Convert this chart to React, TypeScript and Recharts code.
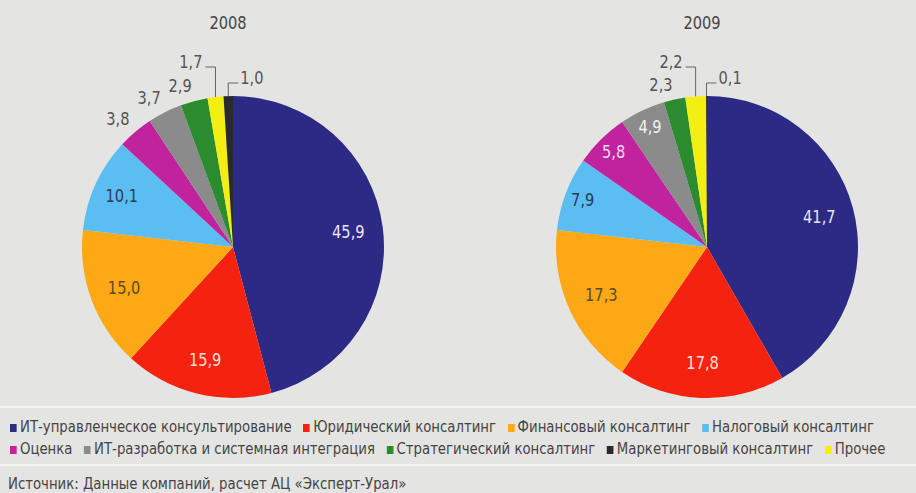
import { PieChart, Pie, Cell } from 'recharts'

// legend order
const categories = [
  'ИТ-управленческое консультирование',
  'Юридический консалтинг',
  'Финансовый консалтинг',
  'Налоговый консалтинг',
  'Оценка',
  'ИТ-разработка и системная интеграция',
  'Стратегический консалтинг',
  'Маркетинговый консалтинг',
  'Прочее',
]
const values2008 = [45.9, 15.9, 15.0, 10.1, 3.8, 3.7, 2.9, 1.0, 1.7]
const values2009 = [41.7, 17.8, 17.3, 7.9, 5.8, 4.9, 2.3, 0.1, 2.2]
const years = ['2008', '2009']
const sourceNote = 'Источник: Данные компаний, расчет АЦ «Эксперт-Урал»'

// slices go clockwise from 12 o'clock; "Прочее" sits before marketing
const pieOrder = [0, 1, 2, 3, 4, 5, 6, 8, 7]
const legendRows = [[0, 1, 2, 3], [4, 5, 6, 7, 8]]

const COLORS = ['#2d2a86', '#f5220f', '#fda814', '#5cbdf2', '#c1229e', '#8b8b8b', '#2a8c2e', '#2b2a2a', '#f4ef12']
const LABEL_COLORS = ['#e8e6f4', '#fde0dc', '#5a4a2a', '#2e3b50', '#f6def0', '#f2f2f2', '#555', '#555', '#555']
const BG = '#e4e4e2'
const FONT = '"DejaVu Sans", sans-serif'
const SQUEEZE = 0.86 // fake a condensed face
const LEGEND_SQUEEZE = 0.83
const RADIAN = Math.PI / 180
const R = 151

const fmt = (v: number) => v.toFixed(1).replace('.', ',')

const buildData = (vals: number[]) =>
  pieOrder.map((i) => ({ name: categories[i], value: vals[i], cat: i }))

function Num({ x, y, anchor, fill, children }: any) {
  return (
    <text
      transform={`translate(${x},${y}) scale(${SQUEEZE},1)`}
      textAnchor={anchor}
      dominantBaseline="central"
      fill={fill}
      style={{ fontFamily: FONT, fontSize: 17 }}
    >
      {children}
    </text>
  )
}

function renderLabel(props: any) {
  const { cx, cy, midAngle, outerRadius, value, index, payload } = props
  const cat = payload.cat ?? payload.payload?.cat
  const cos = Math.cos(-midAngle * RADIAN)
  const sin = Math.sin(-midAngle * RADIAN)
  // last two slices: leader lines up from the rim
  if (index === 7 || index === 8) {
    const px = cx + outerRadius * cos
    const py = cy + outerRadius * sin
    const topY = index === 7 ? cy - 180 : cy - 164
    const hx = index === 7 ? px - 10 : px + 10
    return (
      <g>
        <polyline points={`${px},${py} ${px},${topY} ${hx},${topY}`} fill="none" stroke="#666" strokeWidth={1} />
        <Num x={index === 7 ? hx - 3 : hx + 2} y={topY - 5} anchor={index === 7 ? 'end' : 'start'} fill="#555">
          {fmt(value)}
        </Num>
      </g>
    )
  }
  if (value < 4.5) {
    const r = outerRadius + 9
    return (
      <Num x={cx + r * cos} y={cy + r * sin - 6} anchor="end" fill="#555">
        {fmt(value)}
      </Num>
    )
  }
  const r = outerRadius * (value < 9 ? 0.88 : value < 12 ? 0.81 : 0.77)
  return (
    <Num x={cx + r * cos} y={cy + r * sin} anchor="middle" fill={LABEL_COLORS[cat]}>
      {fmt(value)}
    </Num>
  )
}

export default function App() {
  const series = [buildData(values2008), buildData(values2009)]
  const centers = [228, 702]
  const squeezed = { transform: `scaleX(${LEGEND_SQUEEZE})`, transformOrigin: 'left center' }
  return (
    <div
      style={{
        position: 'fixed',
        left: 0,
        top: 0,
        width: 916,
        height: 493,
        background: BG,
        fontFamily: FONT,
        color: '#444',
        overflow: 'hidden',
      }}
    >
      {years.map((y, i) => (
        <div
          key={y}
          style={{
            position: 'absolute',
            left: centers[i] - 40,
            width: 80,
            top: 13,
            textAlign: 'center',
            fontSize: 17,
            color: '#444',
            transform: `scaleX(${SQUEEZE})`,
          }}
        >
          {y}
        </div>
      ))}
      <div style={{ position: 'absolute', left: 0, top: 0 }}>
        <PieChart width={916} height={405}>
          {series.map((d, i) => (
            <Pie
              key={years[i]}
              data={d}
              dataKey="value"
              nameKey="name"
              cx={centers[i]}
              cy={242}
              outerRadius={R}
              startAngle={90}
              endAngle={-270}
              stroke="none"
              labelLine={false}
              label={renderLabel}
              isAnimationActive={false}
            >
              {d.map((e) => (
                <Cell key={e.cat} fill={COLORS[e.cat]} />
              ))}
            </Pie>
          ))}
        </PieChart>
      </div>
      <div style={{ position: 'absolute', left: 0, top: 406, width: 916, height: 2, background: '#f3f3f1' }} />
      <div style={{ position: 'absolute', left: 0, top: 464, width: 916, height: 2, background: '#f3f3f1' }} />
      {legendRows.map((row, ri) => (
        <div
          key={ri}
          style={{
            position: 'absolute',
            left: 10,
            top: ri === 0 ? 417 : 439,
            display: 'flex',
            alignItems: 'center',
            whiteSpace: 'nowrap',
            fontSize: 16,
            lineHeight: '20px',
            ...squeezed,
          }}
        >
          {row.map((c) => (
            <span key={c} style={{ display: 'inline-flex', alignItems: 'center', marginRight: 14 }}>
              <span style={{ width: 8, height: 8, background: COLORS[c], marginRight: 4, marginTop: 2 }} />
              {categories[c]}
            </span>
          ))}
        </div>
      ))}
      <div
        style={{
          position: 'absolute',
          left: 8,
          top: 474,
          fontSize: 16,
          lineHeight: '20px',
          whiteSpace: 'nowrap',
          ...squeezed,
        }}
      >
        {sourceNote}
      </div>
    </div>
  )
}
